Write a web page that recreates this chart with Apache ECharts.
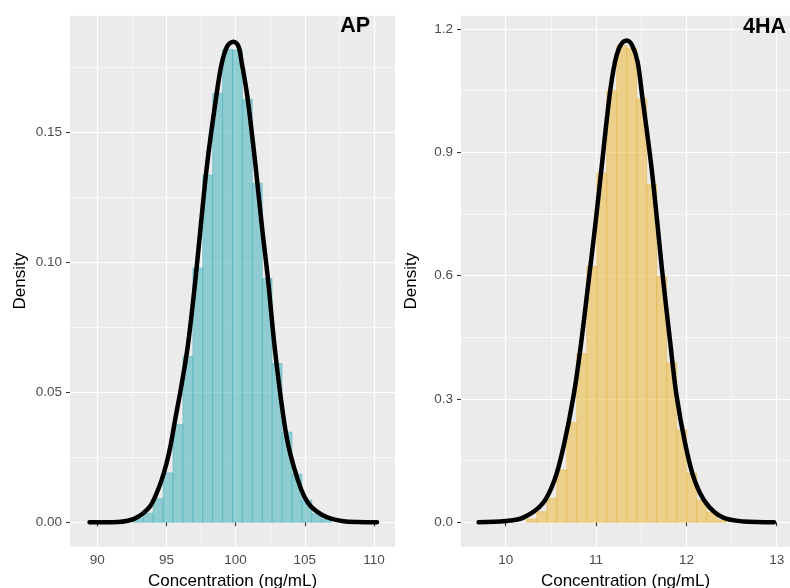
<!DOCTYPE html>
<html>
<head>
<meta charset="utf-8">
<script src="https://cdn.jsdelivr.net/npm/echarts@6/dist/echarts.min.js"></script>
<style>
  html, body { margin: 0; padding: 0; background: #fff; }
  #chart { width: 790px; height: 588px; }
</style>
</head>
<body>
<div id="chart"></div>
<script>
// AP histogram: left edge of each bin and density
var apBinWidth = 0.7166;
var apBinLeft = [92.61, 93.33, 94.04, 94.76, 95.47, 96.19, 96.91, 97.62, 98.34, 99.06,
                 99.77, 100.49, 101.21, 101.92, 102.64, 103.36, 104.07, 104.79, 105.50, 106.22];
var apDensity = [0.0015, 0.0035, 0.0091, 0.0190, 0.0376, 0.0638, 0.0977, 0.1335, 0.1649, 0.1818,
                 0.1815, 0.1626, 0.1303, 0.0937, 0.0610, 0.0347, 0.0185, 0.0085, 0.0033, 0.0012];
// AP fitted curve (x, density)
var apCurveX = [89.44, 90.5, 91.5, 92.2, 92.7, 93.3, 93.8, 94.2, 94.65, 95.0, 95.3, 95.65, 96.1, 96.55,
                97.1, 97.45, 97.95, 98.6, 99.0, 99.4, 99.85, 100.2, 100.45, 100.85, 101.42, 101.93,
                102.34, 102.82, 103.42, 103.83, 104.5, 105.0, 105.47, 106.2, 106.9, 107.8, 108.8, 110.22];
var apCurveY = [0, 0, 0.0001, 0.0006, 0.0014, 0.0034, 0.0060, 0.0100, 0.0162, 0.0225, 0.0295, 0.0400, 0.0530, 0.0680,
                0.0935, 0.1123, 0.1380, 0.1636, 0.1764, 0.1830, 0.1847, 0.1830, 0.1764, 0.1636, 0.1380, 0.1123,
                0.0934, 0.0674, 0.0418, 0.0290, 0.0162, 0.0095, 0.0059, 0.0030, 0.0014, 0.0004, 0.0001, 0];

// 4HA histogram
var haBinWidth = 0.1107;
var haBinLeft = [10.232, 10.343, 10.454, 10.564, 10.675, 10.786, 10.897, 11.007, 11.118, 11.229,
                 11.339, 11.450, 11.561, 11.671, 11.782, 11.893, 12.004, 12.114, 12.225, 12.336];
var haDensity = [0.008, 0.026, 0.0585, 0.1276, 0.243, 0.4105, 0.622, 0.8495, 1.050, 1.160,
                 1.154, 1.030, 0.823, 0.598, 0.388, 0.225, 0.1195, 0.0544, 0.0244, 0.006];
var haCurveX = [9.70, 10.0, 10.2, 10.41, 10.54, 10.64, 10.75, 10.83, 10.92, 10.99, 11.06, 11.15, 11.21, 11.27,
                11.34, 11.40, 11.46, 11.51, 11.61, 11.68, 11.73, 11.82, 11.89, 11.99, 12.09, 12.22, 12.40, 12.63, 12.97];
var haCurveY = [0, 0.003, 0.012, 0.046, 0.103, 0.184, 0.306, 0.428, 0.591, 0.72, 0.86, 1.038, 1.120, 1.160,
                1.172, 1.160, 1.120, 1.038, 0.870, 0.725, 0.615, 0.440, 0.310, 0.188, 0.103, 0.046, 0.012, 0.002, 0];

var apXTicks = [90, 95, 100, 105, 110];
var apYTicks = [0, 0.05, 0.10, 0.15];
var haXTicks = [10, 11, 12, 13];
var haYTicks = [0, 0.3, 0.6, 0.9, 1.2];

var FONT = '"Liberation Sans", Arial, sans-serif';

function zip(a, b) {
  return a.map(function (v, i) { return [v, b[i]]; });
}

function histSeries(left, dens, w, idx, fill, stroke) {
  return {
    type: 'custom',
    xAxisIndex: idx,
    yAxisIndex: idx,
    data: left.map(function (x, i) { return [x, x + w, dens[i]]; }),
    encode: { x: [0, 1], y: 2 },
    z: 2,
    renderItem: function (params, api) {
      var p0 = api.coord([api.value(0), api.value(2)]);
      var p1 = api.coord([api.value(1), 0]);
      return {
        type: 'rect',
        shape: { x: p0[0], y: p0[1], width: p1[0] - p0[0], height: p1[1] - p0[1] },
        style: { fill: fill, stroke: stroke, lineWidth: 0.6 }
      };
    }
  };
}

function curveSeries(xs, ys, idx) {
  return {
    type: 'line',
    xAxisIndex: idx,
    yAxisIndex: idx,
    data: zip(xs, ys),
    showSymbol: false,
    smooth: 0.35,
    z: 5,
    lineStyle: { color: '#000', width: 4.5, cap: 'round', join: 'round' }
  };
}

function xAxis(idx, min, max, ticks) {
  return {
    type: 'value', gridIndex: idx, min: min, max: max,
    name: 'Concentration (ng/mL)', nameLocation: 'middle', nameGap: 24,
    nameTextStyle: { color: '#000', fontSize: 17, fontFamily: FONT },
    axisLine: { show: false },
    axisTick: { show: true, length: 4, customValues: ticks, lineStyle: { color: '#333', width: 1.1 } },
    axisLabel: { customValues: ticks, color: '#4d4d4d', fontSize: 13.5, fontFamily: FONT, margin: 7 },
    splitLine: { show: true, lineStyle: { color: '#fff', width: 1.2 } },
    minorTick: { show: false, splitNumber: 2 },
    minorSplitLine: { show: true, lineStyle: { color: '#fff', width: 0.6 } }
  };
}

function yAxis(idx, min, max, ticks, digits) {
  return {
    type: 'value', gridIndex: idx, min: min, max: max,
    name: 'Density', nameLocation: 'middle', nameGap: 41, nameRotate: 90,
    nameTextStyle: { color: '#000', fontSize: 17, fontFamily: FONT },
    axisLine: { show: false },
    axisTick: { show: true, length: 4, customValues: ticks, lineStyle: { color: '#333', width: 1.1 } },
    axisLabel: {
      customValues: ticks, color: '#4d4d4d', fontSize: 13.5, fontFamily: FONT, margin: 8,
      formatter: function (v) { return v.toFixed(digits); }
    },
    splitLine: { show: true, lineStyle: { color: '#fff', width: 1.2 } },
    minorTick: { show: false, splitNumber: 2 },
    minorSplitLine: { show: true, lineStyle: { color: '#fff', width: 0.6 } }
  };
}

var myChart = echarts.init(document.getElementById('chart'), null, { renderer: 'canvas' });

var option = {
  backgroundColor: '#fff',
  animation: false,
  title: [
    { text: 'AP', right: 420, top: 15, padding: 0,
      textStyle: { fontSize: 21.5, fontWeight: 'bold', color: '#000', fontFamily: FONT } },
    { text: '4HA', right: 4, top: 16, padding: 0,
      textStyle: { fontSize: 21.5, fontWeight: 'bold', color: '#000', fontFamily: FONT } }
  ],
  grid: [
    { left: 70, top: 15.7, width: 325, height: 531, backgroundColor: '#ebebeb', show: true, borderWidth: 0,
      outerBoundsMode: 'none', containLabel: false },
    { left: 461, top: 15.7, width: 329, height: 531, backgroundColor: '#ebebeb', show: true, borderWidth: 0,
      outerBoundsMode: 'none', containLabel: false }
  ],
  xAxis: [
    xAxis(0, 88.03, 111.52, apXTicks),
    xAxis(1, 9.505, 13.147, haXTicks)
  ],
  yAxis: [
    yAxis(0, -0.00938, 0.1947, apYTicks, 2),
    yAxis(1, -0.0594, 1.2323, haYTicks, 1)
  ],
  series: [
    histSeries(apBinLeft, apDensity, apBinWidth, 0, 'rgba(80,183,193,0.6)', 'rgba(70,175,190,0.75)'),
    curveSeries(apCurveX, apCurveY, 0),
    histSeries(haBinLeft, haDensity, haBinWidth, 1, 'rgba(237,188,73,0.6)', 'rgba(230,180,60,0.75)'),
    curveSeries(haCurveX, haCurveY, 1)
  ]
};
myChart.setOption(option);
</script>
</body>
</html>
